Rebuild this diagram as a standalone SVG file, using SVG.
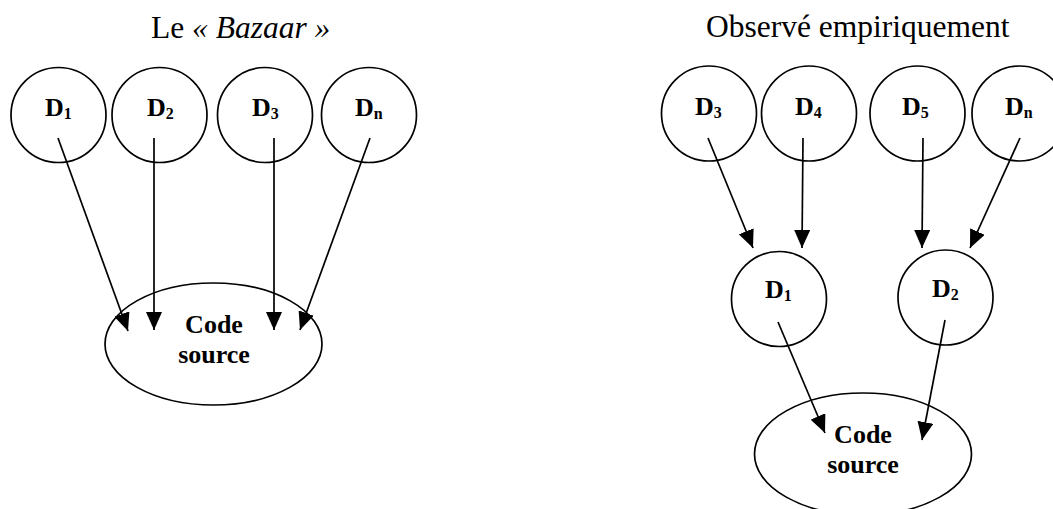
<svg xmlns="http://www.w3.org/2000/svg" width="1053" height="509" viewBox="0 0 1053 509">
<style>
.n{fill:#fff;stroke:#000;stroke-width:1.7}
.t{font-family:"Liberation Serif","Times New Roman",serif;font-size:31.5px;fill:#000}
.d{font-family:"Liberation Serif","Times New Roman",serif;font-size:26px;font-weight:bold;fill:#000}
.s{font-size:16px}
.c{font-family:"Liberation Serif","Times New Roman",serif;font-size:26px;font-weight:bold;fill:#000;text-anchor:middle}
.e{stroke:#000;stroke-width:1.7;fill:none;marker-end:url(#ah)}
</style>
<defs>
<marker id="ah" viewBox="0 0 18 16" refX="18" refY="8" markerWidth="18" markerHeight="16" markerUnits="userSpaceOnUse" orient="auto">
<path d="M0,0 L18,8 L0,16 Z" fill="#000"/>
</marker>
</defs>
<rect width="1053" height="509" fill="#fff"/>
<text class="t" x="151" y="38">Le <tspan font-style="italic">« Bazaar »</tspan></text>
<text class="t" x="706" y="37">Observé empiriquement</text>

<g id="left-d1"><circle class="n" cx="58.5" cy="115" r="47.5"/><text class="d" x="45" y="116">D<tspan class="s" dy="3">1</tspan></text></g>
<g id="left-d2"><circle class="n" cx="159.5" cy="115" r="47.5"/><text class="d" x="147" y="116">D<tspan class="s" dy="3">2</tspan></text></g>
<g id="left-d3"><circle class="n" cx="265" cy="115" r="47.5"/><text class="d" x="252" y="116">D<tspan class="s" dy="3">3</tspan></text></g>
<g id="left-dn"><circle class="n" cx="369" cy="115" r="47.5"/><text class="d" x="355" y="116">D<tspan class="s" dy="3">n</tspan></text></g>
<g id="left-code"><ellipse class="n" cx="213.5" cy="344" rx="108.5" ry="61"/><text class="c" x="214" y="333">Code</text><text class="c" x="214" y="363">source</text></g>

<g id="right-d3"><circle class="n" cx="709" cy="113.5" r="47.5"/><text class="d" x="695" y="115">D<tspan class="s" dy="3">3</tspan></text></g>
<g id="right-d4"><circle class="n" cx="809" cy="113.5" r="47.5"/><text class="d" x="795" y="115">D<tspan class="s" dy="3">4</tspan></text></g>
<g id="right-d5"><circle class="n" cx="917.5" cy="113.5" r="47.5"/><text class="d" x="902" y="115">D<tspan class="s" dy="3">5</tspan></text></g>
<g id="right-dn"><circle class="n" cx="1019.5" cy="113.5" r="47.5"/><text class="d" x="1005" y="115">D<tspan class="s" dy="3">n</tspan></text></g>
<g id="right-d1"><circle class="n" cx="779" cy="299" r="47.5"/><text class="d" x="765" y="298">D<tspan class="s" dy="3">1</tspan></text></g>
<g id="right-d2"><circle class="n" cx="945.5" cy="297.5" r="47.5"/><text class="d" x="932" y="297">D<tspan class="s" dy="3">2</tspan></text></g>
<g id="right-code"><ellipse class="n" cx="863" cy="454" rx="108.5" ry="61"/><text class="c" x="863" y="443">Code</text><text class="c" x="863" y="473">source</text></g>

<g id="connectors">
<path class="e" d="M58,138 L128,331"/>
<path class="e" d="M154,138 L154,330"/>
<path class="e" d="M274,138 L274,330"/>
<path class="e" d="M370,138 L300,330"/>
<path class="e" d="M708,138 L753,248"/>
<path class="e" d="M803,138 L802,248"/>
<path class="e" d="M923,138 L922,248"/>
<path class="e" d="M1020,138 L970,248"/>
<path class="e" d="M778,322 L825,433"/>
<path class="e" d="M945,320 L922,440"/>
</g>
</svg>
